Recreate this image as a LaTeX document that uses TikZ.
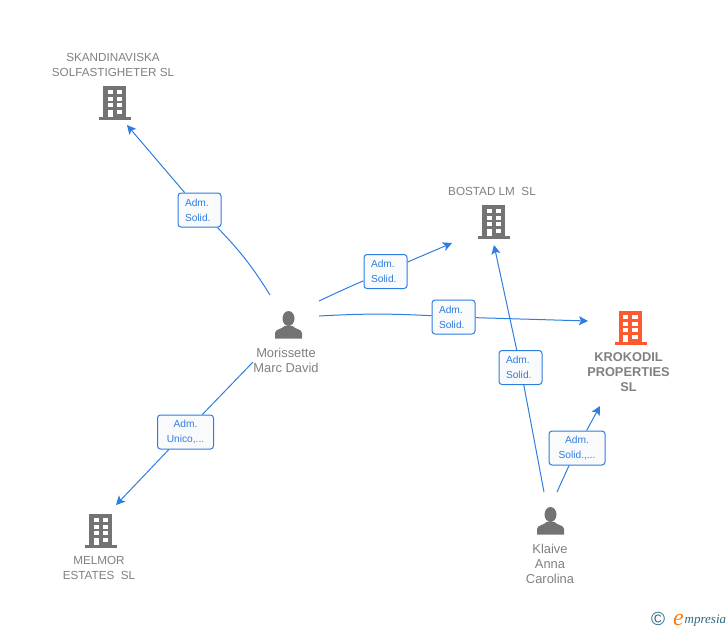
\documentclass[tikz,border=0pt]{standalone}
\usepackage{fontspec}
\setmainfont{Liberation Sans}
\newfontfamily\logofont{Liberation Serif}
\usetikzlibrary{arrows.meta,positioning}
\definecolor{linkblue}{RGB}{46, 125, 225}
\definecolor{boxfill}{RGB}{249, 250, 252}
\definecolor{labelgrey}{RGB}{128, 128, 128}
\definecolor{icongrey}{RGB}{115, 115, 115}
\definecolor{iconorange}{RGB}{255, 90, 45}
\definecolor{logoteal}{RGB}{40, 105, 130}
\definecolor{logoorange}{RGB}{245, 125, 20}
\tikzset{
    admbox/.style={draw=linkblue, fill=boxfill, line width=1pt, rounded corners=3pt, text=linkblue,
        font=\fontsize{10.2}{15}\selectfont, inner xsep=0pt, inner ysep=0pt, minimum height=34pt},
    admsmall/.style={admbox, minimum width=43pt, text width=29pt, align=left},
    admwide/.style={admbox, minimum width=56pt, text width=50pt, align=center},
    admline/.style={draw=linkblue, line width=1pt},
    admarrow/.style={admline, -{Stealth[length=9pt, width=9pt, inset=2pt]}},
    complabel/.style={text=labelgrey, font=\fontsize{11.7}{15}\selectfont, align=center, inner sep=0pt},
    perslabel/.style={text=labelgrey, font=\fontsize{12.9}{15}\selectfont, align=center, inner sep=0pt},
    pics/building/.style={code={
        \fill[#1] (-12,-17) rectangle (11,14);
        \fill[#1] (-16,14) rectangle (16,17);
        \foreach \wy in {-13.5,-6.5,-0.5}{
            \fill[white] (-7.5,\wy) rectangle (-2.5,\wy+4.5);
            \fill[white] (1.5,\wy) rectangle (7,\wy+4.5);
        }
        \fill[white] (1.5,6.5) rectangle (7,11);
        \fill[white] (-7.5,6.5) rectangle (-2.5,14);
    }},
    pics/person/.style={code={
        \fill[icongrey] (0,-6.5) ellipse (6 and 7.5);
        \fill[icongrey] (-13.5,13.5) -- (-13.5,8) .. controls (-13.5,4) and (-6,4) .. (-4,1)
            -- (4,1) .. controls (6,4) and (13.5,4) .. (13.5,8) -- (13.5,13.5) -- cycle;
    }}
}

\begin{document}
\begin{tikzpicture}[x=1pt, y=-1pt]
    \useasboundingbox (0,0) rectangle (728,630);

    % Companies
    \pic at (115,103) {building=icongrey};
    \node[complabel] (skandinaviska) at (113,64.5) {SKANDINAVISKA\\SOLFASTIGHETER SL};
    \pic at (494,222) {building=icongrey};
    \node[complabel] (bostad) at (492,191) {BOSTAD LM\ \ SL};
    \pic at (630.5,328) {building=iconorange};
    \node[complabel, font=\fontsize{12.8}{15}\selectfont\bfseries] (krokodil) at (628.5,372) {KROKODIL\\PROPERTIES\\SL};
    \pic at (101,531) {building=icongrey};
    \node[complabel] (melmor) at (99,567.5) {MELMOR\\ESTATES\ \ SL};

    % People
    \pic at (288.5,325) {person};
    \node[perslabel] (morissette) at (286,360) {Morissette\\Marc David};
    \pic at (550.5,521) {person};
    \node[perslabel] (klaive) at (550,564) {Klaive\\Anna\\Carolina};

    % Free ends of the links
    \coordinate (morisUp) at (270,295);
    \coordinate (morisRight) at (319,301);
    \coordinate (morisMid) at (319,316);
    \coordinate (morisDown) at (253,362);
    \coordinate (klaiveLeft) at (544,492);
    \coordinate (klaiveRight) at (557,492);
    \coordinate (toSkand) at (127,125);
    \coordinate (toBostadA) at (452,243);
    \coordinate (toKrokodilA) at (588,321);
    \coordinate (toMelmor) at (116,505);
    \coordinate (toBostadB) at (494,245);
    \coordinate (toKrokodilB) at (600,406);

    % Link boxes
    \node[admsmall] (admSkand) at (199.5,210) {Adm.\\Solid.};
    \node[admsmall] (admBostad) at (385.5,271.5) {Adm.\\Solid.};
    \node[admsmall] (admKrokodil) at (453.5,317) {Adm.\\Solid.};
    \node[admwide] (admMelmor) at (185.5,432) {Adm.\\Unico,...};
    \node[admsmall] (admKlaive) at (520.5,367.5) {Adm.\\Solid.};
    \node[admwide] (admKlaiveB) at (577,448) {Adm.\\Solid.,...};

    % Links
    \draw[admline] (morisUp) to[bend right=6] (admSkand);
    \draw[admarrow] (admSkand) -- (toSkand);
    \draw[admline] (morisRight) to[bend left=1] (admBostad);
    \draw[admarrow] (admBostad) -- (toBostadA);
    \draw[admline] (morisMid) to[bend left=3] (admKrokodil);
    \draw[admarrow] (admKrokodil) -- (toKrokodilA);
    \draw[admline] (morisDown) -- (admMelmor);
    \draw[admarrow] (admMelmor) -- (toMelmor);
    \draw[admline] (klaiveLeft) -- (admKlaive);
    \draw[admarrow] (admKlaive) -- (toBostadB);
    \draw[admline] (klaiveRight) -- (admKlaiveB);
    \draw[admarrow] (admKlaiveB) -- (toKrokodilB);

    % Logo
    \node[text=logoteal, font=\fontsize{19}{19}\selectfont, inner sep=0pt] (logoC) at (658,619) {\textcopyright};
    \node[text=logoteal, font=\logofont\itshape\fontsize{13}{13}\selectfont, inner sep=0pt, anchor=base west] (logoText) at (684.5,623) {mpresia};
    \node[text=logoorange, font=\logofont\itshape\fontsize{24}{24}\selectfont, inner sep=0pt, anchor=base east] (logoE) at (684,625) {e};
\end{tikzpicture}
\end{document}
